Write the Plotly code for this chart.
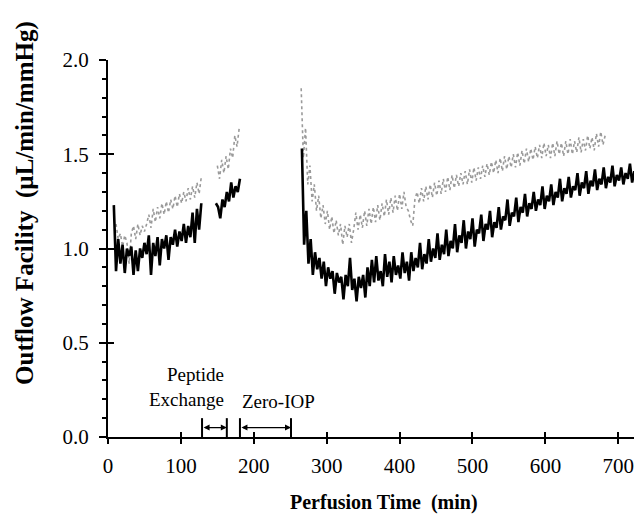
import plotly.graph_objects as go

# ---------------- data ----------------
STEP = 3  # sampling interval (min)

# Black series (heavy line)
black_seg1_start = 8
black_seg1 = [1.23, 0.88, 1.05, 0.92, 1.02, 0.87, 1.00, 0.96, 1.01, 0.86,
              0.99, 0.88, 1.00, 0.95, 1.03, 0.97, 1.07, 0.86, 1.03, 0.96,
              1.06, 0.91, 1.05, 1.00, 1.07, 0.94, 1.06, 1.02, 1.10, 1.01,
              1.09, 1.04, 1.13, 1.03, 1.12, 1.06, 1.19, 1.03, 1.21, 1.10,
              1.24]
black_seg2_start = 148
black_seg2 = [1.24, 1.22, 1.16, 1.26, 1.22, 1.30, 1.25, 1.35, 1.27, 1.33,
              1.30, 1.37]
black_seg3_start = 266
black_seg3 = [1.53, 1.02, 1.20, 0.92, 1.05, 0.86, 0.98, 0.89, 0.95, 0.84,
              0.93, 0.80, 0.90, 0.84, 0.88, 0.76, 0.87, 0.82, 0.85, 0.73,
              0.86, 0.80, 0.95, 0.78, 0.84, 0.72, 0.85, 0.79, 0.86, 0.74,
              0.90, 0.80, 0.94, 0.82, 0.96, 0.83, 0.88, 0.80, 0.97, 0.85,
              0.93, 0.82, 0.96, 0.86, 0.91, 0.84, 0.98, 0.87, 0.93, 0.83,
              0.98, 0.88, 0.95, 0.90, 1.03, 0.89, 0.97, 0.92, 1.05, 0.93,
              1.00, 0.95, 1.08, 0.94, 1.02, 0.97, 1.10, 0.96, 1.04, 1.00,
              1.13, 0.98, 1.07, 1.03, 1.15, 1.00, 1.09, 1.05, 1.16, 1.01,
              1.10, 1.08, 1.18, 1.04, 1.13, 1.10, 1.20, 1.06, 1.14, 1.11,
              1.22, 1.10, 1.17, 1.15, 1.26, 1.12, 1.19, 1.17, 1.27, 1.14,
              1.22, 1.19, 1.29, 1.17, 1.24, 1.21, 1.30, 1.20, 1.26, 1.23,
              1.33, 1.21, 1.28, 1.25, 1.34, 1.23, 1.30, 1.27, 1.37, 1.25,
              1.32, 1.29, 1.38, 1.27, 1.33, 1.31, 1.40, 1.28, 1.35, 1.32,
              1.41, 1.29, 1.36, 1.33, 1.42, 1.31, 1.37, 1.34, 1.43, 1.32,
              1.38, 1.35, 1.44, 1.33, 1.39, 1.36, 1.43, 1.34, 1.40, 1.37,
              1.45, 1.35, 1.41, 1.38, 1.47, 1.34, 1.41, 1.39]

# Gray series (dotted line)
gray_seg1_start = 11
gray_seg1 = [1.13, 1.05, 1.08, 1.01, 1.07, 1.03, 0.92, 1.08, 1.12, 1.05,
             1.13, 1.07, 1.12, 1.09, 1.13, 1.18, 1.11, 1.21, 1.14, 1.22,
             1.16, 1.24, 1.18, 1.25, 1.19, 1.26, 1.21, 1.28, 1.22, 1.29,
             1.24, 1.30, 1.25, 1.32, 1.26, 1.33, 1.27, 1.35, 1.29, 1.38]
gray_seg2_start = 150
gray_seg2 = [1.44, 1.37, 1.47, 1.40, 1.49, 1.42, 1.53, 1.48, 1.60, 1.54,
             1.64]
gray_seg3_start = 265
gray_seg3 = [1.85, 1.48, 1.64, 1.34, 1.44, 1.25, 1.34, 1.20, 1.28, 1.16,
             1.23, 1.13, 1.20, 1.10, 1.17, 1.08, 1.15, 1.07, 1.13, 1.02,
             1.12, 1.06, 1.13, 1.03, 1.10, 1.19, 1.10, 1.18, 1.11, 1.20,
             1.12, 1.21, 1.13, 1.22, 1.14, 1.23, 1.15, 1.24, 1.17, 1.26,
             1.18, 1.27, 1.19, 1.28, 1.20, 1.29, 1.21, 1.30, 1.22, 1.20,
             1.15, 1.12, 1.26, 1.30, 1.24, 1.32, 1.25, 1.33, 1.26, 1.34,
             1.27, 1.35, 1.28, 1.36, 1.29, 1.37, 1.30, 1.38, 1.31, 1.39,
             1.32, 1.39, 1.33, 1.40, 1.34, 1.41, 1.34, 1.42, 1.35, 1.43,
             1.36, 1.43, 1.37, 1.44, 1.38, 1.45, 1.39, 1.46, 1.40, 1.47,
             1.40, 1.48, 1.41, 1.49, 1.42, 1.49, 1.43, 1.50, 1.43, 1.51,
             1.44, 1.52, 1.45, 1.53, 1.46, 1.53, 1.47, 1.54, 1.48, 1.55,
             1.48, 1.56, 1.49, 1.55, 1.48, 1.56, 1.49, 1.57, 1.50, 1.56,
             1.49, 1.57, 1.50, 1.58, 1.50, 1.57, 1.51, 1.59, 1.51, 1.58,
             1.52, 1.60, 1.53, 1.59, 1.52, 1.61, 1.54, 1.62, 1.55, 1.60]

# Interval markers (min)
peptide_interval = [129, 163]
zero_iop_interval = [181, 251]

x_tick_vals = [0, 100, 200, 300, 400, 500, 600, 700]
y_tick_vals = [0.0, 0.5, 1.0, 1.5, 2.0]


def build(segments):
    xs, ys = [], []
    for start, vals in segments:
        xs += [start + STEP * i for i in range(len(vals))]
        ys += vals
        xs.append(None)
        ys.append(None)
    return xs, ys


gx, gy = build([(gray_seg1_start, gray_seg1), (gray_seg2_start, gray_seg2),
                (gray_seg3_start, gray_seg3)])
bx, by = build([(black_seg1_start, black_seg1), (black_seg2_start, black_seg2),
                (black_seg3_start, black_seg3)])

FONT = "Liberation Serif"

fig = go.Figure()
fig.add_trace(go.Scatter(x=gx, y=gy, mode="lines", connectgaps=False,
                         line=dict(color="#9a9a9a", width=1.6, dash="dot"),
                         showlegend=False))
fig.add_trace(go.Scatter(x=bx, y=by, mode="lines", connectgaps=False,
                         line=dict(color="black", width=2.6),
                         showlegend=False))
# invisible trace on overlay axes so they render
fig.add_trace(go.Scatter(x=[None], y=[None], xaxis="x2", yaxis="y2",
                         showlegend=False, hoverinfo="skip"))

XR = [0, 743.5]
YR = [0, 2]

fig.update_layout(
    width=642, height=518,
    margin=dict(l=100, r=0, t=52, b=89),
    paper_bgcolor="white", plot_bgcolor="white",
    font=dict(family=FONT, size=21, color="black"),
    xaxis=dict(range=XR, tickvals=x_tick_vals, ticks="outside", ticklen=5,
               tickwidth=1.5, tickcolor="black", showline=True,
               linecolor="black", linewidth=2, showgrid=False, zeroline=False,
               tickfont=dict(family=FONT, size=21), ticklabelstandoff=4),
    yaxis=dict(range=YR, tickvals=y_tick_vals, tickformat=".1f",
               ticks="outside", ticklen=7, tickwidth=1.5, tickcolor="black",
               minor=dict(dtick=0.1, ticks="outside", ticklen=4,
                          tickwidth=1.5, tickcolor="black"),
               showline=True, linecolor="black", linewidth=2,
               showgrid=False, zeroline=False,
               tickfont=dict(family=FONT, size=21), ticklabelstandoff=6),
    xaxis2=dict(range=XR, overlaying="x", anchor="y", side="bottom",
                tickvals=x_tick_vals, ticks="inside", ticklen=5,
                tickwidth=1.5, tickcolor="black", showticklabels=False,
                showgrid=False, zeroline=False, showline=False),
    yaxis2=dict(range=YR, overlaying="y", anchor="x", side="left",
                tickvals=y_tick_vals, ticks="inside", ticklen=6,
                tickwidth=1.5, tickcolor="black", showticklabels=False,
                showgrid=False, zeroline=False, showline=False),
)

annotations = [
    dict(text="<b>Perfusion Time\u00a0 (min)</b>", xref="paper", yref="paper",
         x=0.509, y=-0.175, showarrow=False, font=dict(family=FONT, size=20),
         xanchor="center", yanchor="middle"),
    dict(text="<b>Outflow Facility\u00a0 (\u00b5L/min/mmHg)</b>", xref="paper",
         yref="paper", x=-0.152, y=0.62, showarrow=False, textangle=-90,
         font=dict(family=FONT, size=25), xanchor="center", yanchor="middle"),
    dict(text="Peptide<br>Exchange", x=peptide_interval[1] - 1, y=0.265,
         xref="x", yref="y", showarrow=False, align="right",
         xanchor="right", yanchor="middle", font=dict(family=FONT, size=19)),
    dict(text="Zero-IOP", x=zero_iop_interval[0], y=0.19, xref="x", yref="y",
         showarrow=False, xanchor="left", yanchor="middle",
         font=dict(family=FONT, size=19)),
]
for a, b in (peptide_interval, zero_iop_interval):
    annotations.append(dict(text="", x=b, y=0.05, ax=a, ay=0.05, xref="x",
                            yref="y", axref="x", ayref="y", showarrow=True,
                            arrowhead=2, startarrowhead=2, arrowside="end+start",
                            arrowwidth=1.2, arrowsize=1, startarrowsize=1,
                            arrowcolor="black"))
fig.update_layout(annotations=annotations)

shapes = []
for xv in peptide_interval + zero_iop_interval:
    shapes.append(dict(type="line", xref="x", yref="y", x0=xv, x1=xv,
                       y0=0, y1=0.1, line=dict(color="black", width=2)))
fig.update_layout(shapes=shapes)

fig.write_html("out.html")
